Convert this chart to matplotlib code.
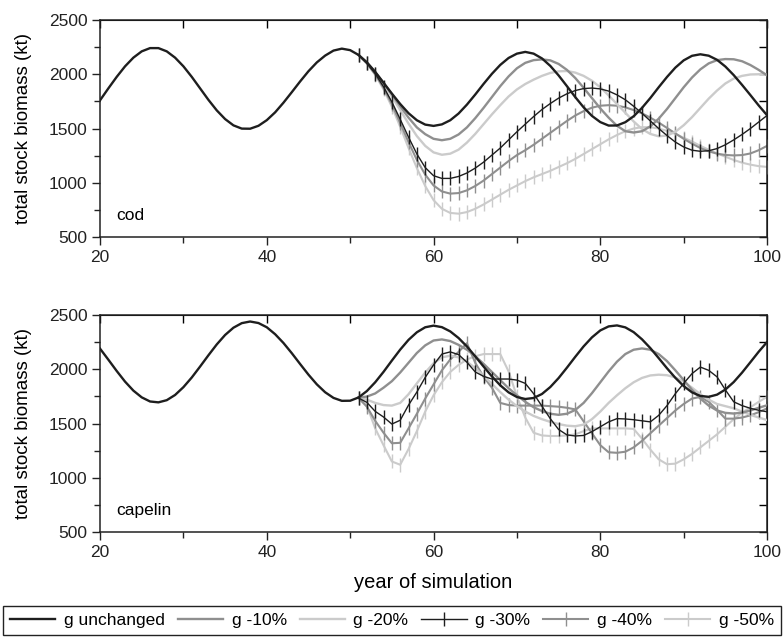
import numpy as np
import matplotlib
matplotlib.use("Agg")
import matplotlib.pyplot as plt
from matplotlib.ticker import MultipleLocator

plt.rcParams["font.family"] = ["Liberation Sans", "DejaVu Sans"]

years_all = np.arange(20, 101)
years_mod = np.arange(51, 101)

# cod, total stock biomass (kt)
cod_base = [1760, 1870, 1976, 2073, 2153, 2211, 2241, 2241, 2211, 2153,
            2073, 1976, 1870, 1764, 1667, 1587, 1529, 1499, 1498, 1525,
            1577, 1649, 1738, 1835, 1934, 2028, 2109, 2172, 2218, 2236,
            2222, 2178, 2110, 2022, 1922, 1822, 1726, 1641, 1576, 1536,
            1524, 1538, 1576, 1638, 1720, 1813, 1911, 2004, 2086, 2150,
            2190, 2206, 2190, 2146, 2077, 1989, 1890, 1789, 1695, 1616,
            1559, 1527, 1528, 1558, 1613, 1690, 1781, 1880, 1975, 2061,
            2128, 2170, 2184, 2171, 2133, 2071, 1992, 1902, 1808, 1712,
            1622]
cod_g10 = [2178, 2108, 2020, 1920, 1815, 1705, 1600, 1510, 1448, 1405,
           1392, 1405, 1445, 1510, 1595, 1690, 1790, 1890, 1980, 2055,
           2105, 2130, 2137, 2128, 2095, 2040, 1965, 1875, 1780, 1685,
           1600, 1525, 1475, 1463, 1475, 1520, 1590, 1680, 1780, 1880,
           1970, 2045, 2100, 2130, 2140, 2138, 2120, 2085, 2040, 1990]
cod_g20 = [2178, 2106, 2015, 1910, 1795, 1670, 1545, 1430, 1340, 1280,
           1258, 1268, 1305, 1370, 1450, 1540, 1630, 1715, 1795, 1860,
           1910, 1950, 1985, 2012, 2027, 2030, 2015, 1985, 1940, 1880,
           1805, 1725, 1645, 1565, 1495, 1450, 1428, 1435, 1470, 1530,
           1605, 1690, 1775, 1850, 1915, 1960, 1985, 1998, 2000, 1995]
cod_g30 = [2178, 2100, 2005, 1885, 1745, 1585, 1420, 1265, 1140, 1065,
           1040, 1040, 1058, 1090, 1135, 1190, 1255, 1320, 1395, 1470,
           1540, 1610, 1675, 1730, 1780, 1820, 1850, 1868, 1873, 1865,
           1845, 1810, 1765, 1705, 1640, 1570, 1500, 1435, 1375, 1330,
           1300, 1290, 1295, 1315, 1350, 1395, 1445, 1500, 1560, 1620]
cod_g40 = [2178, 2100, 2000, 1875, 1725, 1550, 1375, 1210, 1075, 975,
           920, 900, 905, 930, 970, 1020, 1080, 1140, 1200, 1255,
           1300, 1350, 1405, 1460, 1515, 1570, 1620, 1660, 1692, 1710,
           1715, 1710, 1695, 1670, 1640, 1600, 1555, 1505, 1455, 1405,
           1360, 1320, 1290, 1268, 1256, 1252, 1255, 1270, 1300, 1340]
cod_g50 = [2178, 2100, 1995, 1860, 1700, 1515, 1320, 1135, 970, 840,
           760, 722, 715, 730, 760, 800, 845, 890, 935, 975,
           1015, 1050, 1080, 1110, 1145, 1180, 1220, 1265, 1310, 1355,
           1400, 1440, 1475, 1500, 1512, 1512, 1500, 1478, 1450, 1415,
           1380, 1340, 1305, 1270, 1240, 1210, 1185, 1167, 1153, 1146]

# capelin, total stock biomass (kt)
cap_base = [2190, 2088, 1984, 1886, 1803, 1741, 1703, 1695, 1715, 1763,
            1835, 1924, 2025, 2129, 2229, 2316, 2383, 2425, 2440, 2426,
            2387, 2323, 2242, 2148, 2048, 1950, 1861, 1788, 1736, 1709,
            1710, 1740, 1799, 1880, 1976, 2080, 2181, 2271, 2341, 2387,
            2402, 2388, 2349, 2288, 2210, 2119, 2025, 1934, 1852, 1787,
            1744, 1726, 1735, 1772, 1836, 1919, 2015, 2115, 2211, 2294,
            2358, 2395, 2404, 2386, 2342, 2276, 2195, 2103, 2009, 1921,
            1845, 1787, 1754, 1746, 1766, 1813, 1882, 1969, 2065, 2162,
            2251]
cap_g10 = [1740, 1748, 1777, 1830, 1890, 1970, 2060, 2150, 2220, 2265,
           2275, 2260, 2225, 2180, 2120, 2050, 1975, 1900, 1825, 1760,
           1700, 1650, 1615, 1590, 1580, 1590, 1625, 1690, 1780, 1880,
           1980, 2070, 2140, 2180, 2192, 2180, 2140, 2075, 1990, 1900,
           1810, 1730, 1665, 1620, 1598, 1592, 1600, 1620, 1645, 1668]
cap_g20 = [1740, 1720, 1690, 1670, 1665, 1690, 1770, 1870, 1970, 2055,
           2110, 2125, 2110, 2070, 2010, 1940, 1865, 1790, 1720, 1660,
           1610, 1570, 1540, 1515, 1495, 1480, 1475, 1490, 1540, 1610,
           1690, 1760, 1825, 1880, 1920, 1943, 1950, 1945, 1925, 1885,
           1830, 1770, 1720, 1680, 1660, 1640, 1610, 1580, 1555, 1532]
cap_g30 = [1735, 1695, 1612, 1560, 1495, 1530, 1670, 1790, 1925, 2040,
           2140, 2160, 2135, 2065, 1975, 1935, 1910, 1910, 1910, 1900,
           1870, 1775, 1660, 1545, 1445, 1395, 1385, 1390, 1425, 1470,
           1515, 1545, 1542, 1535, 1525, 1515, 1575, 1665, 1775, 1870,
           1960, 2020, 1990, 1930, 1810, 1700, 1665, 1640, 1622, 1608]
cap_g40 = [1735, 1655, 1525, 1415, 1318, 1322, 1455, 1590, 1730, 1860,
           1990, 2090, 2160, 2240, 2060, 1930, 1830, 1690, 1670, 1665,
           1665, 1665, 1665, 1660, 1655, 1645, 1630, 1520, 1410, 1300,
           1235, 1230, 1240, 1280, 1340, 1410, 1480, 1550, 1620, 1680,
           1730, 1745, 1700, 1625, 1545, 1545, 1555, 1575, 1605, 1640]
cap_g50 = [1735, 1665, 1455, 1300, 1150, 1120, 1265, 1430, 1610, 1760,
           1880, 1975, 2040, 2090, 2120, 2140, 2140, 2140, 1980, 1750,
           1555, 1415, 1390, 1385, 1385, 1390, 1400, 1430, 1455, 1455,
           1455, 1455, 1455, 1450, 1360, 1260, 1170, 1125, 1130, 1170,
           1220, 1280, 1340, 1400, 1470, 1540, 1600, 1650, 1700, 1745]

labels = ["g unchanged", "g -10%", "g -20%", "g -30%", "g -40%", "g -50%"]

BLACK = "#1e1e1e"
MID = "#8f8f8f"
LIGHT = "#cbcbcb"


def draw_panel(ax, base, g10, g20, g30, g40, g50, name):
  handles = []
  handles += ax.plot(years_all, base, color=BLACK, lw=1.7, zorder=5)
  handles += ax.plot(years_mod, g10, color=MID, lw=1.7, zorder=4)
  handles += ax.plot(years_mod, g20, color=LIGHT, lw=1.7, zorder=3)
  handles += ax.plot(years_mod, g30, color=BLACK, lw=1.0, marker="|",
                     ms=10, mew=1.0, zorder=6)
  handles += ax.plot(years_mod, g40, color=MID, lw=1.5, marker="|",
                     ms=10, mew=1.0, zorder=2)
  handles += ax.plot(years_mod, g50, color=LIGHT, lw=1.5, marker="|",
                     ms=10, mew=1.0, zorder=1)

  ax.set_xlim(20, 100)
  ax.set_ylim(500, 2500)
  ax.xaxis.set_major_locator(MultipleLocator(20))
  ax.xaxis.set_minor_locator(MultipleLocator(10))
  ax.yaxis.set_major_locator(MultipleLocator(500))
  ax.yaxis.set_minor_locator(MultipleLocator(250))
  ax.tick_params(which="both", direction="out", top=False, right=False,
                 labelsize=12.5, width=1.0, colors="#222222", pad=3)
  ax.tick_params(which="major", length=6)
  ax.tick_params(which="minor", length=4)
  # inward ticks on the top and right spines
  ax2 = ax.secondary_xaxis("top")
  ax2.xaxis.set_major_locator(MultipleLocator(10))
  ax2.tick_params(direction="in", length=6, labeltop=False, width=1.0)
  ay2 = ax.secondary_yaxis("right")
  ay2.yaxis.set_major_locator(MultipleLocator(250))
  ay2.tick_params(direction="in", length=6, labelright=False, width=1.0)
  for s in ax.spines.values():
    s.set_linewidth(1.1)
    s.set_color("#222222")
  ax.set_ylabel("total stock biomass (kt)", fontsize=13.5, labelpad=12)
  ax.text(22, 700, name, fontsize=12.5, va="center", ha="left")
  return handles


fig = plt.figure(figsize=(7.84, 6.43), dpi=100)
ax_cod = fig.add_axes([0.1276, 0.6314, 0.8508, 0.3375])
ax_cap = fig.add_axes([0.1276, 0.1726, 0.8508, 0.3375])

handles = draw_panel(ax_cod, cod_base, cod_g10, cod_g20, cod_g30, cod_g40,
                     cod_g50, "cod")
draw_panel(ax_cap, cap_base, cap_g10, cap_g20, cap_g30, cap_g40, cap_g50,
           "capelin")
ax_cap.set_xlabel("year of simulation", fontsize=14.5, labelpad=10)

leg = fig.legend(handles, labels, loc="lower left", ncol=6, mode="expand",
                 bbox_to_anchor=(0.004, 0.012, 0.992, 0.059),
                 borderaxespad=0, fontsize=12.5, numpoints=1, handlelength=2.6,
                 handletextpad=0.5, fancybox=False, framealpha=1)
leg.get_frame().set_edgecolor("#222222")
leg.get_frame().set_linewidth(1.0)

fig.savefig("out.png", dpi=100)
